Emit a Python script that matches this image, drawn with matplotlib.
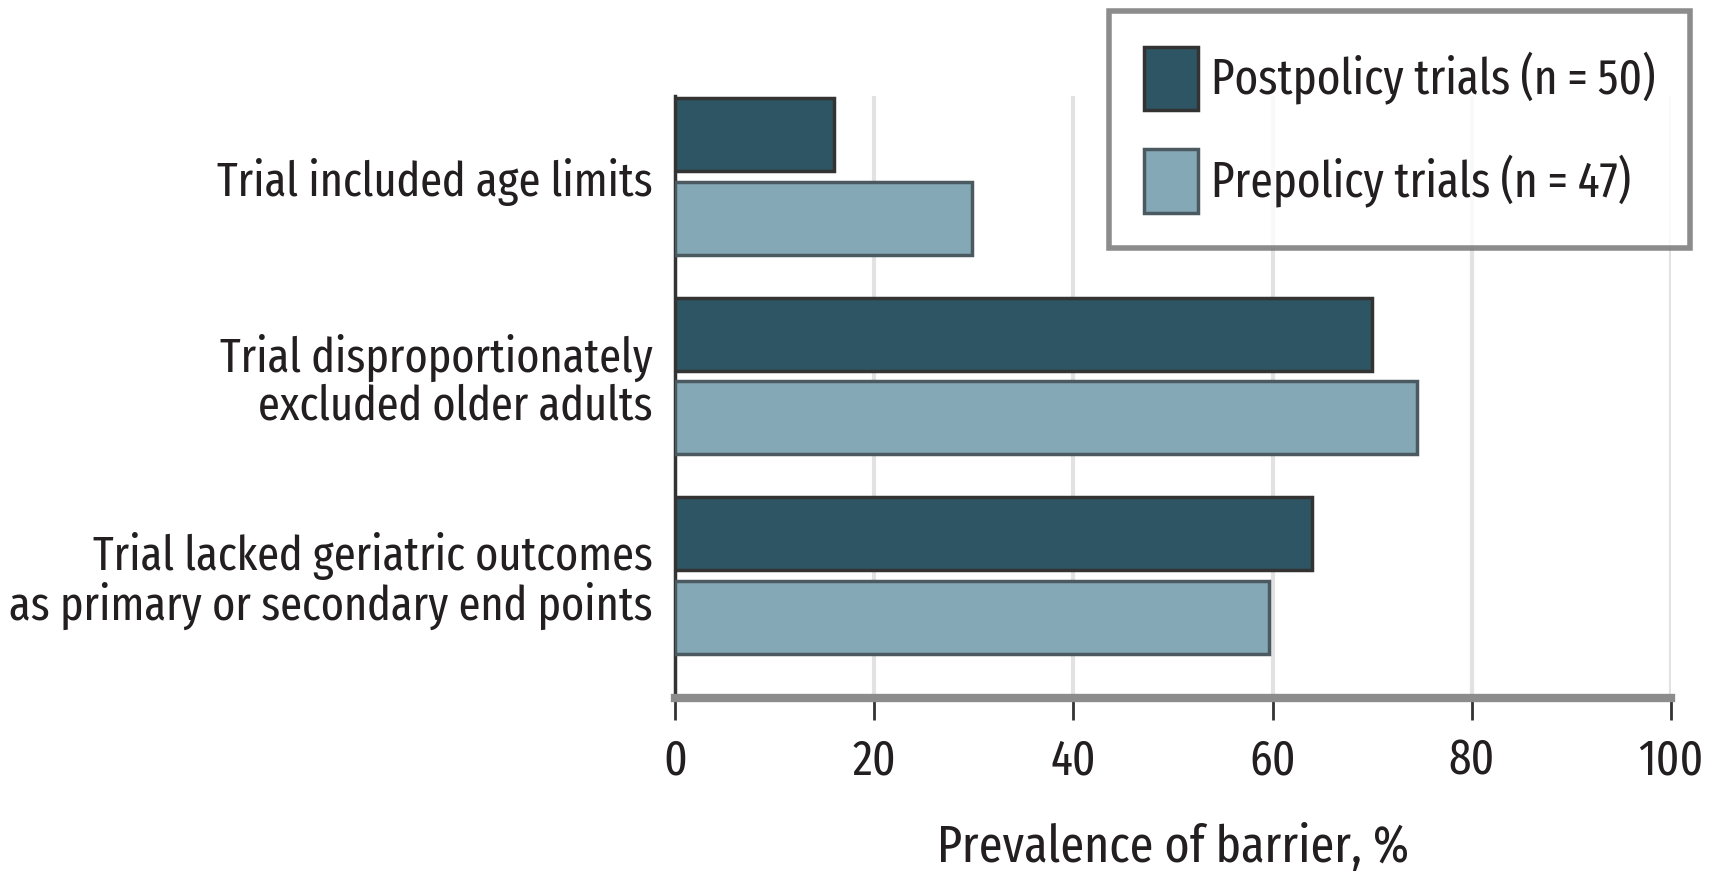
import matplotlib
matplotlib.use("Agg")
import matplotlib.pyplot as plt
from matplotlib import font_manager
import numpy as np

categories = ["Trial included age limits",
              "Trial disproportionately\nexcluded older adults",
              "Trial lacked geriatric outcomes\nas primary or secondary end points"]
post_values = [16, 70, 64]
pre_values = [29.8, 74.5, 59.6]
series_labels = ["Postpolicy trials (n\u2009=\u200950)", "Prepolicy trials (n\u2009=\u200947)"]
xticks = [0, 20, 40, 60, 80, 100]
xlabel = "Prevalence of barrier, %"

names = {f.name for f in font_manager.fontManager.ttflist}
prefs = ["Fira Sans Extra Condensed", "Fira Sans Condensed", "Barlow Condensed",
         "Roboto Condensed", "Archivo Narrow", "PT Sans Narrow",
         "Liberation Sans Narrow", "DejaVu Sans"]
fam = next(p for p in prefs if p in names)
plt.rcParams['font.family'] = [fam, 'DejaVu Sans']

dark = "#2E5563"
light = "#85A8B6"
edge = "#333333"
tcol = "#231f20"

fig = plt.figure(figsize=(17.11, 8.72), dpi=100)

# choose a font size so that the shortest label has the reference width (~435 px)
r = fig.canvas.get_renderer()
probe = fig.text(0, 0, categories[0], fontsize=40)
w40 = probe.get_window_extent(r).width
probe.remove()
fs = min(42, 40 * 435 / w40)

ax = fig.add_axes([0.3945, 0.1995, 0.9766 - 0.3945, 0.890 - 0.1995])

y = np.arange(len(categories))
h = 0.367
off = 0.21
ax.barh(y - off, post_values, height=h, color=dark, edgecolor=edge, linewidth=2.5,
        label=series_labels[0], zorder=3)
ax.barh(y + off, pre_values, height=h, color=light, edgecolor="#4a5a60", linewidth=2.5,
        label=series_labels[1], zorder=3)

ax.set_xlim(0, 100)
ax.set_ylim(2 + 0.616, -0.405)
ax.set_yticks(y)
ax.set_yticklabels(categories, fontsize=fs, ha='right', linespacing=1.05, color=tcol)
ax.tick_params(axis='y', length=0, pad=16)
ax.set_xticks(xticks)
ax.set_xticklabels([str(t) for t in xticks], fontsize=fs * 1.02, color=tcol)
ax.tick_params(axis='x', length=16, width=2, color="#333333", pad=12)
ax.set_xlabel(xlabel, fontsize=fs * 1.08, labelpad=27, color=tcol)

for x in xticks[1:]:
    ax.axvline(x, color="#e2e2e2", linewidth=3, zorder=0)

for s in ['top', 'right']:
    ax.spines[s].set_visible(False)
ax.spines['left'].set_color("#333333")
ax.spines['left'].set_linewidth(2.5)
ax.spines['bottom'].set_color("#8c8c8c")
ax.spines['bottom'].set_linewidth(6)

leg = fig.legend(loc='upper right', bbox_to_anchor=(0.988, 0.987), fontsize=fs * 1.02,
                 frameon=True, fancybox=False, edgecolor="#707070",
                 handlelength=1.1, handleheight=1.6, handletextpad=0.25,
                 borderpad=0.72, labelspacing=0.8, borderaxespad=0)
leg.get_frame().set_linewidth(4)
for t in leg.get_texts():
    t.set_color(tcol)

fig.savefig("out.png", dpi=100)
